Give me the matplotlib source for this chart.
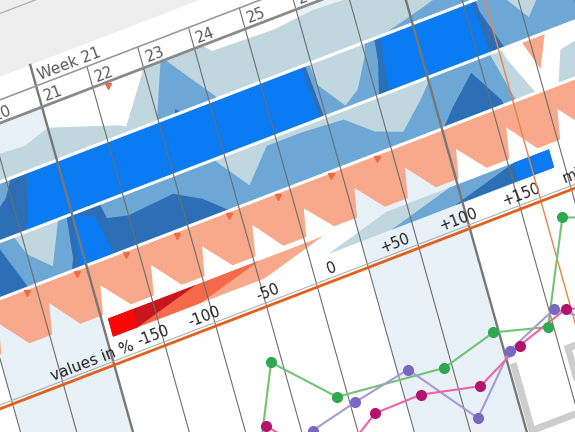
import matplotlib
matplotlib.use("Agg")
import matplotlib.pyplot as plt
from matplotlib.transforms import Affine2D
import numpy as np

# ---- data (u = day of month, values in %) ----
days = list(range(15, 33))
label_days = [20, 21, 22, 23, 24, 25, 26]
weekend_spans = [(12, 14), (19, 21), (26, 28), (33, 35)]
week_starts = [14, 21, 28, 35]
now_day = 29.4

bandA_u = [17.5, 19.0, 19.5, 20.5, 21.0, 21.6, 22.3, 22.4, 22.95, 23.36, 24.16, 24.3, 25.5, 26.3, 27.0, 27.5, 28.3, 29.0, 30.0, 31.0]
bandA_val = [30, 28, 25, 22, 30, 20, 8, 5, 46, 104, 50, 42, 40, 44, 42, 50, 60, 70, 60, 50]

bandB_u = [17.5, 19.0, 19.5, 19.9, 20.2, 20.4, 25.8, 26.0, 26.4, 26.7, 27.0, 27.2, 27.35, 29.15, 29.25, 29.5, 29.8, 30.1, 30.4, 31.5]
bandB_val = [100, 110, 120, 135, 160, 200, 200, 80, 52, 62, 90, 130, 200, 200, 140, 102, 90, 68, 85, 90]

bandC_u = [17.5, 19.5, 20.0, 20.4, 20.8, 21.0, 21.4, 21.6, 22.0, 22.9, 23.4, 23.8, 24.3, 24.8, 25.5, 26.3, 26.8, 27.3, 27.8, 28.3, 28.8, 29.2, 29.5, 29.8, 29.85, 30.05, 30.3, 30.5, 31.5]
bandC_val = [150, 150, 80, 60, 110, 200, 190, 135, 130, 134, 119, 100, 65, 95, 95, 92, 70, 60, 85, 115, 140, 105, 40, 5, 0, -31, 0, 30, 40]

bandD_u = [18.05, 18.15, 18.6, 19.05, 19.15, 19.6, 20.05, 20.15, 20.6, 21.05, 21.15, 21.6,
           22.05, 22.15, 22.6, 23.05, 23.15, 23.6, 24.05, 24.15, 24.6, 25.05, 25.15, 25.6,
           26.05, 26.15, 26.6, 27.05, 27.15, 27.6, 28.05, 28.15, 28.6, 29.05, 29.15, 29.6,
           30.05, 30.15, 30.6, 31.05, 31.15, 31.6]
bandD_val = [-50, -22, -50, -50, -21, -50, -50, -20, -50, -50, -22, -50,
             -50, -21, -50, -50, -22, -50, -50, -20, -50, -50, -23, -50,
             -50, -22, -50, -50, -21, -50, -50, -22, -50, -50, -20, -50,
             -50, -21, -50, -50, -22, -50]
marker_days = [19.8, 20.8, 21.75, 22.76, 23.78, 24.75, 25.8, 26.7]

legend_u = [21.12, 21.6, 21.601, 29.1, 29.101, 29.8]
legend_val = [-200, -200, -150, 150, 200, 200]
legend_ticks = [-150, -100, -50, 0, 50, 100, 150]
legend_labels = ["-150", "-100", "-50", "0", "+50", "+100", "+150"]

green_u = [22.8, 23.8, 24.8, 26.85, 27.9, 28.9, 29.7, 30.7]
green_val = [25, 85, 58, 52.5, 60, 53, 100, 90]
purple_u = [23.2, 24.2, 25.1, 26.2, 27.2, 28.1, 29.1, 30.1]
purple_val = [20, 47, 52.5, 58, 24, 49, 60, 41.5]
magenta_u = [23.4, 24.4, 25.4, 26.3, 27.4, 28.3, 29.3, 30.3]
magenta_val = [57, 27.5, 44, 44.5, 38, 49.5, 58, 50]
step_u = [28.1, 28.1, 29.15, 29.15, 31.0]
step_val = [41, 9, 9, 40, 40]

pos_colors = ["#c0d7e0", "#6ca7d6", "#2d6fb6", "#0b7bf3"]
neg_colors = ["#f9a98b", "#f46a4b", "#c9161d", "#fb0707"]

fig = plt.figure(figsize=(5.75, 4.32), dpi=100)
ax = fig.add_axes([0, 0, 1, 1])
ax.set_xlim(0, 575)
ax.set_ylim(432, 0)
ax.axis("off")

# tilted view of the dashboard: (day, row offset) -> image pixels
T = Affine2D(np.array([[50.8, 0.28, 42 - 21 * 50.8],
                       [-19.5, 1.0, 107 + 21 * 19.5],
                       [0, 0, 1]])) + ax.transData
ROT = 21


def box(u0, u1, v0, v1, color, z=1):
    ax.fill([u0, u1, u1, u0], [v0, v0, v1, v1], color=color, lw=0, transform=T, zorder=z)


def hline(v, u0=10, u1=40, **kw):
    ax.plot([u0, u1], [v, v], transform=T, solid_capstyle="butt", **kw)


def horizon(u, val, top, bottom):
    ug = np.linspace(u[0], u[-1], 4000)
    vg = np.interp(ug, u, val)
    H = bottom - top
    for k in range(4):
        hp = np.clip((vg - 50 * k) / 50, 0, 1) * H
        if hp.max() > 0:
            ax.fill(np.r_[ug, ug[::-1]], np.r_[bottom - hp, np.full_like(ug, bottom)],
                    color=pos_colors[k], lw=0, transform=T, zorder=3)
        hn = np.clip((-vg - 50 * k) / 50, 0, 1) * H
        if hn.max() > 0:
            ax.fill(np.r_[ug, ug[::-1]], np.r_[top + hn, np.full_like(ug, top)],
                    color=neg_colors[k], lw=0, transform=T, zorder=3)


# header panel
box(5, 45, -300, -42, "#eeeeee", 0)
hline(-99, color="#b5b5b5", lw=1, zorder=1)

# weekend shading
for a, b in weekend_spans:
    box(a, b, 0, 560, "#e8f0f8", 1)

# horizon rows
horizon(bandA_u, bandA_val, 0, 52)
horizon(bandB_u, bandB_val, 54.5, 106)
horizon(bandC_u, bandC_val, 108, 157.5)
horizon(bandD_u, bandD_val, 159.5, 209)
for v in [53.3, 107, 158.5]:
    hline(v, color="white", lw=2.2, zorder=4)
ax.plot(marker_days, [163] * len(marker_days), "v", ms=4, color="#ef6a45", transform=T, zorder=5)
ax.plot([22.27], [4], "v", ms=4, color="#ef6a45", transform=T, zorder=5)

# legend strip
horizon(legend_u, legend_val, 214, 232)
tick_u = [21.6 + (t + 150) / 300 * 7.5 for t in legend_ticks]
tick_u[0] += 0.25
for tu, lab in zip(tick_u, legend_labels):
    ax.text(tu, 250, lab, transform=T, rotation=ROT, rotation_mode="anchor",
            ha="center", va="baseline", fontsize=10.5, color="#222", zorder=6)
ax.text(21.45, 251, "values in %", transform=T, rotation=ROT, rotation_mode="anchor",
        ha="right", va="baseline", fontsize=11, color="#222", zorder=6)
ax.text(29.9, 250, "missing", transform=T, rotation=ROT, rotation_mode="anchor",
        ha="left", va="baseline", fontsize=10.5, color="#222", zorder=6)

# day grid
for d in days:
    if d in week_starts:
        continue
    ax.plot([d, d], [-21, 560], color="#6e6e6e", lw=0.8, transform=T, zorder=5)
for w in week_starts:
    ax.plot([w, w], [-42, 560], color="#777777", lw=1.7, transform=T, zorder=5)
ax.plot([now_day, now_day], [0, 560], color="#e8844a", lw=1, transform=T, zorder=6)

# header
hline(-21, color="#9a9a9a", lw=1.2, zorder=6)
hline(0, color="#8a8a8a", lw=2, zorder=6)
for d in label_days:
    ax.text(d + 0.1, -4, str(d), transform=T, rotation=ROT, rotation_mode="anchor",
            ha="left", va="baseline", fontsize=11, color="#5a5a5a", zorder=7)
ax.text(21.1, -25, "Week 21", transform=T, rotation=ROT, rotation_mode="anchor",
        ha="left", va="baseline", fontsize=11, color="#5a5a5a", zorder=7)

# separator between rows and line chart
hline(254.5, color="#b0b0b0", lw=0.8, zorder=6)
hline(258, color="#e2601b", lw=2, zorder=6)


# line chart below
def lc(val):
    return [480 - 2 * x for x in val]


ax.plot(step_u, lc(step_val), color="#cdcdcd", lw=5, transform=T, zorder=6, solid_joinstyle="miter")
ax.plot(green_u, lc(green_val), "-", color="#72c276", lw=1.5, transform=T, zorder=7)
ax.plot(green_u, lc(green_val), "o", color="#2fa84f", ms=7, transform=T, zorder=8)
ax.plot(purple_u, lc(purple_val), "-", color="#a79bd6", lw=1.5, transform=T, zorder=7)
ax.plot(purple_u, lc(purple_val), "o", color="#7a67c2", ms=7, transform=T, zorder=8)
ax.plot(magenta_u, lc(magenta_val), "-", color="#ee64a6", lw=1.5, transform=T, zorder=7)
ax.plot(magenta_u, lc(magenta_val), "o", color="#b3136e", ms=7, transform=T, zorder=8)

fig.savefig("out.png", dpi=100)
